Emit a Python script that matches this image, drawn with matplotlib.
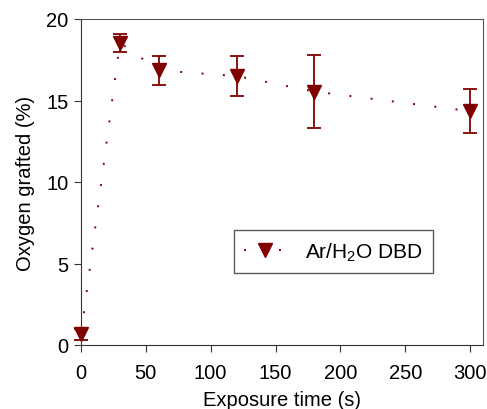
import matplotlib
matplotlib.use("Agg")
import matplotlib.pyplot as plt
from matplotlib.lines import Line2D

time_s = [0, 30, 60, 120, 180, 300]
oxygen = [0.65, 18.55, 16.85, 16.5, 15.55, 14.35]
err = [0.35, 0.55, 0.9, 1.25, 2.25, 1.35]
series_label = "Ar/H$_\\mathregular{2}$O DBD"
x_ticks = [0, 50, 100, 150, 200, 250, 300]
y_ticks = [0, 5, 10, 15, 20]

plt.rcParams['font.family'] = ['Liberation Sans', 'DejaVu Sans']
plt.rcParams['mathtext.fontset'] = 'custom'
plt.rcParams['mathtext.rm'] = 'Liberation Sans'

color = '#800000'
dots = (0, (1, 10))
fig = plt.figure(figsize=(4.87, 4.10), dpi=100)
ax = fig.add_axes([81/487, 1 - 346/410, (483-81)/487, (346-20)/410])

ax.errorbar(time_s, oxygen, yerr=err, fmt='v', color=color, ecolor=color,
            markersize=10, capsize=5, elinewidth=1.3, capthick=1.3,
            linestyle=dots, linewidth=1.4, clip_on=False)

ax.set_xlim(0, 310)
ax.set_ylim(0, 20)
ax.set_xticks(x_ticks)
ax.set_yticks(y_ticks)
ax.tick_params(direction='out', length=5, labelsize=14.5, color='#333333')
ax.tick_params(axis='x', pad=8)
ax.tick_params(axis='y', pad=4)
for s in ['left', 'bottom']:
    ax.spines[s].set_color('#333333')
for s in ['top', 'right']:
    ax.spines[s].set_color('#555555')
ax.set_xlabel('Exposure time (s)', fontsize=14.5, labelpad=6)
ax.set_ylabel('Oxygen grafted (%)', fontsize=14.5, labelpad=8)

handle = Line2D([], [], color=color, marker='v', markersize=10,
                linestyle=(0, (1, 8)), linewidth=1.4)
leg = ax.legend([handle], [series_label], loc='upper left',
                bbox_to_anchor=((234 - 81) / 402, (346 - 231) / 326),
                borderaxespad=0, fontsize=15, frameon=True, fancybox=False,
                edgecolor='#333333', handlelength=2.0, borderpad=0.5,
                handletextpad=0.9)
leg.get_frame().set_linewidth(1.0)

fig.savefig('out.png', dpi=100)
